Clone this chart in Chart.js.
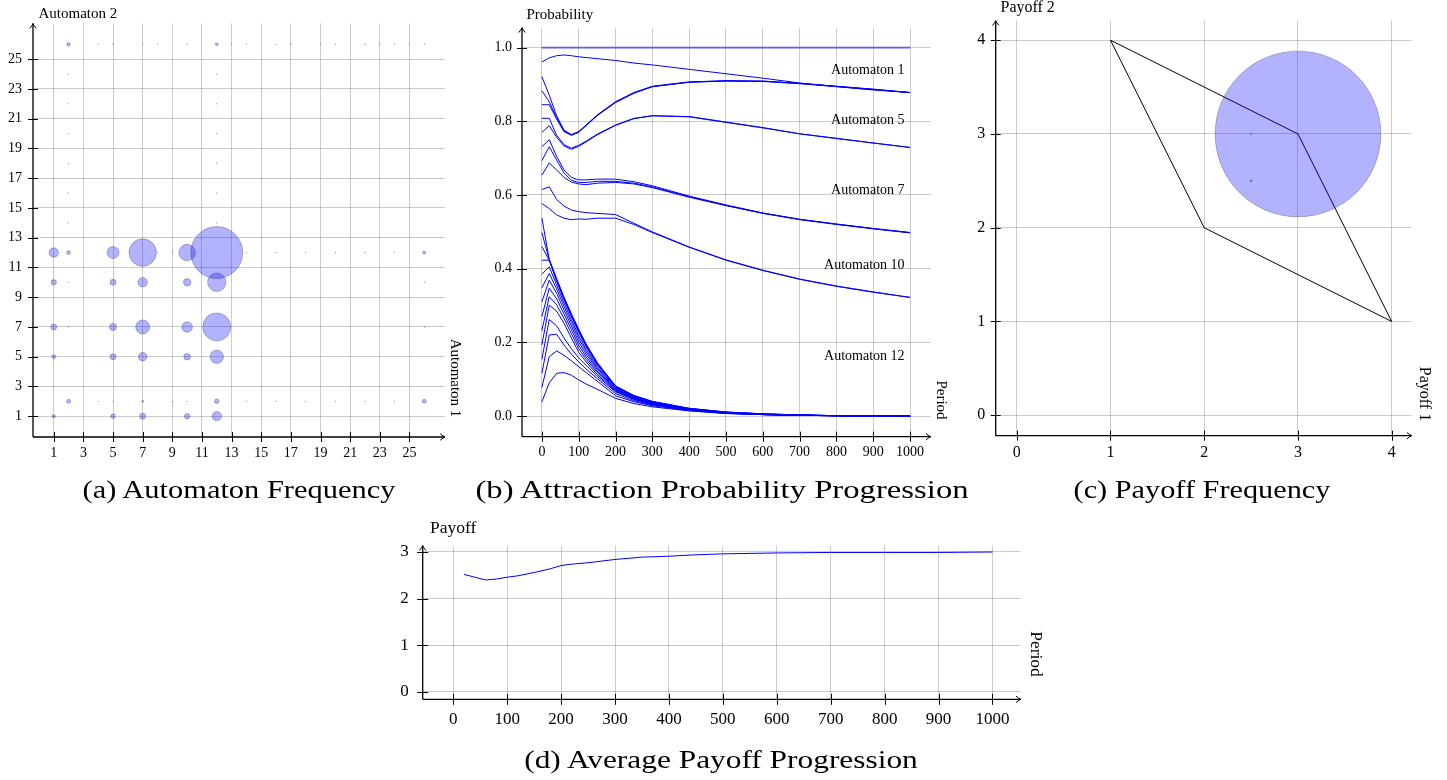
<!DOCTYPE html>
<html><head><meta charset="utf-8">
<script src="https://cdn.jsdelivr.net/npm/chart.js@4.4.1/dist/chart.umd.min.js"></script>
<style>
html,body{margin:0;padding:0;background:#fff;width:1447px;height:780px;overflow:hidden;}
canvas{position:absolute;left:0;top:0;}
.cap{position:absolute;font-family:"Liberation Serif","Times New Roman",serif;font-size:25px;color:#000;white-space:nowrap;transform:translate(-50%,-50%);}
</style></head><body>
<canvas id="ca" width="1447" height="780"></canvas>
<canvas id="cb" width="1447" height="780"></canvas>
<canvas id="cc" width="1447" height="780"></canvas>
<canvas id="cd" width="1447" height="780"></canvas>
<div class="cap" data-w="313" style="left:238.5px;top:490px">(a) Automaton Frequency</div>
<div class="cap" data-w="493" style="left:721.5px;top:490px">(b) Attraction Probability Progression</div>
<div class="cap" data-w="257" style="left:1201.5px;top:490px">(c) Payoff Frequency</div>
<div class="cap" data-w="394" style="left:721px;top:760px">(d) Average Payoff Progression</div>
<script>
// ---------- (a) Automaton Frequency ----------
const automaton1 = [1,2,5,7,10,12,26, 1,5,7,10,12, 1,5,7,10,12, 1,5,7,10,12, 2,7,12,26, 1,5,7,10,12, 2,12,
  4,5,7,8,10,13,14,16,17,19,20,22,23,24,25,26, 2,2,2,2,2,2, 12,12,12,12,12,12, 8,9,14,16,18,20,22,24, 4,5,9,10,14,16,18,20,22,24, 2,26,2,26];
const automaton2 = [12,12,12,12,12,12,12, 10,10,10,10,10, 7,7,7,7,7, 5,5,5,5,5, 2,2,2,2, 1,1,1,1,1, 26,26,
  26,26,26,26,26,26,26,26,26,26,26,26,26,26,26,26, 14,16,18,20,22,24, 14,16,18,20,22,24, 12,12,12,12,12,12,12,12, 2,2,2,2,2,2,2,2,2,2, 10,10,7,7];
const automatonFreq = [2.45,0.44,4.0,20.9,7.65,75.1,0.25, 0.81,1.0,2.45,1.52,9.4, 1.0,1.36,5.44,3.12,21.8, 0.44,1.0,2.05,1.21,4.99, 0.44,0.11,0.59,0.44, 0.32,0.59,1.0,0.81,2.45, 0.36,0.22,
  0.015,0.015,0.015,0.015,0.015,0.015,0.015,0.015,0.015,0.015,0.015,0.015,0.015,0.015,0.015,0.015, 0.012,0.012,0.012,0.012,0.012,0.012, 0.012,0.012,0.015,0.02,0.012,0.012, 0.015,0.015,0.015,0.015,0.015,0.015,0.015,0.015, 0.015,0.015,0.015,0.015,0.015,0.015,0.015,0.015,0.015,0.015, 0.02,0.015,0.015,0.015];
const ticksA = [1,3,5,7,9,11,13,15,17,19,21,23,25];

// ---------- (b) Attraction Probability Progression ----------
const periods = [0,20,40,60,80,100,120,150,200,250,300,400,500,600,700,800,900,1000];
const probOne = [1,1,1,1,1,1,1,1,1,1,1,1,1,1,1,1,1,1];
const probTop = [0.961,0.972,0.978,0.980,0.978,0.975,0.973,0.970,0.965,0.958,0.953,0.941,0.929,0.917,0.904,0.894,0.885,0.878];
const groupA = [
  [0.921,0.871,0.815,0.776,0.764,0.772,0.790,0.817,0.853,0.878,0.895,0.907,0.910,0.909,0.903,0.895,0.887,0.878],
  [0.883,0.853,0.810,0.774,0.763,0.771,0.789,0.816,0.852,0.877,0.894,0.906,0.910,0.909,0.903,0.895,0.887,0.878],
  [0.845,0.845,0.806,0.772,0.762,0.770,0.788,0.815,0.851,0.876,0.894,0.906,0.909,0.908,0.902,0.894,0.886,0.878]];
const groupB = [
  [0.808,0.808,0.762,0.737,0.727,0.735,0.746,0.765,0.790,0.808,0.815,0.813,0.798,0.783,0.766,0.754,0.741,0.729],
  [0.770,0.788,0.757,0.733,0.724,0.732,0.744,0.763,0.789,0.807,0.815,0.812,0.797,0.782,0.766,0.753,0.741,0.729]];
const groupC = [
  [0.731,0.750,0.705,0.668,0.648,0.641,0.641,0.643,0.643,0.636,0.625,0.597,0.573,0.551,0.534,0.521,0.509,0.498],
  [0.693,0.731,0.695,0.660,0.640,0.634,0.634,0.637,0.637,0.632,0.622,0.595,0.572,0.551,0.534,0.521,0.509,0.498],
  [0.654,0.687,0.668,0.648,0.635,0.630,0.628,0.632,0.634,0.630,0.620,0.594,0.571,0.550,0.533,0.520,0.508,0.497]];
const groupD = [
  [0.615,0.622,0.588,0.570,0.559,0.555,0.552,0.550,0.547,0.523,0.500,0.459,0.424,0.396,0.372,0.353,0.337,0.322],
  [0.577,0.563,0.546,0.537,0.533,0.535,0.534,0.537,0.537,0.520,0.498,0.458,0.423,0.395,0.371,0.352,0.336,0.322]];
const groupE = [
  [0.537,0.425,0.373,0.323,0.278,0.236,0.196,0.146,0.082,0.056,0.040,0.021,0.011,0.006,0.003,0.001,0.000,0.000],
  [0.498,0.424,0.371,0.321,0.276,0.233,0.193,0.144,0.081,0.055,0.039,0.021,0.011,0.006,0.003,0.001,0.000,0.000],
  [0.460,0.423,0.369,0.319,0.273,0.230,0.191,0.142,0.080,0.055,0.039,0.020,0.010,0.006,0.003,0.001,0.000,0.000],
  [0.423,0.423,0.366,0.316,0.270,0.227,0.188,0.140,0.079,0.054,0.038,0.020,0.010,0.005,0.003,0.001,0.000,0.000],
  [0.385,0.405,0.356,0.307,0.262,0.218,0.181,0.135,0.077,0.053,0.037,0.019,0.010,0.005,0.003,0.001,0.000,0.000],
  [0.348,0.387,0.345,0.298,0.254,0.210,0.175,0.131,0.075,0.051,0.036,0.019,0.010,0.005,0.002,0.001,0.000,0.000],
  [0.310,0.369,0.333,0.288,0.245,0.201,0.168,0.127,0.073,0.050,0.035,0.018,0.009,0.005,0.002,0.001,0.000,0.000],
  [0.270,0.347,0.318,0.277,0.235,0.192,0.161,0.122,0.071,0.049,0.034,0.018,0.009,0.005,0.002,0.001,0.000,0.000],
  [0.232,0.324,0.302,0.265,0.224,0.183,0.154,0.118,0.069,0.047,0.033,0.017,0.009,0.004,0.002,0.001,0.000,0.000],
  [0.193,0.301,0.285,0.252,0.212,0.173,0.147,0.113,0.067,0.046,0.032,0.017,0.008,0.004,0.002,0.001,0.000,0.000],
  [0.154,0.262,0.245,0.212,0.183,0.158,0.138,0.108,0.066,0.045,0.031,0.016,0.008,0.004,0.002,0.001,0.000,0.000],
  [0.116,0.220,0.222,0.193,0.168,0.147,0.128,0.102,0.061,0.042,0.030,0.016,0.008,0.004,0.002,0.001,0.000,0.000],
  [0.078,0.161,0.177,0.165,0.150,0.134,0.118,0.095,0.055,0.039,0.028,0.015,0.007,0.004,0.002,0.001,0.000,0.000],
  [0.039,0.090,0.116,0.118,0.111,0.098,0.087,0.073,0.048,0.034,0.025,0.014,0.007,0.004,0.002,0.001,0.000,0.000]];
const noteText = ['Automaton 1','Automaton 5','Automaton 7','Automaton 10','Automaton 12'];
const notePeriod = [985,985,985,985,985];
const noteProb = [0.939,0.803,0.613,0.410,0.161];
const ticksBX = [0,100,200,300,400,500,600,700,800,900,1000];
const ticksBY = [0,0.2,0.4,0.6,0.8,1.0];

// ---------- (c) Payoff Frequency ----------
const payoff1 = [3,2.5,2.5];
const payoff2 = [3,2.5,3];
const payoffFreq = [98.4,0.015,0.005];
const hull1 = [1,3,4,2,1];
const hull2 = [4,3,1,2,4];
const ticksC = [0,1,2,3,4];

// ---------- (d) Average Payoff Progression ----------
const avgPeriods = [20,40,60,80,100,120,150,180,200,220,250,300,350,400,450,500,600,700,800,900,1000];
const avgPayoff = [2.52,2.46,2.40,2.42,2.46,2.49,2.56,2.64,2.71,2.74,2.77,2.84,2.89,2.91,2.94,2.96,2.98,2.99,2.99,2.99,3.00];
const ticksDX = [0,100,200,300,400,500,600,700,800,900,1000];
const ticksDY = [0,1,2,3];

// ---------- helpers ----------
const SERIF = '"Liberation Serif","Times New Roman",serif';
const W = 1447, H = 780, XH = 32;
function yw(l){ return Math.min(40, l); }
function pad(l, t, r, b){ return {left:l - yw(l), top:t, right:W - r, bottom:H - b - XH}; }
function pts(xs, ys){ return xs.map((x,i)=>({x:x, y:ys[i]})); }

function scaleCfg(min, max, ticks, size, padding, ext, fmt){
  return {
    type:'linear', min:min, max:max,
    afterBuildTicks: s => { s.ticks = ticks.map(v => ({value:v})); },
    afterFit: s => { if (s.isHorizontal()) s.height = ext; else s.width = ext; },
    grid:{color:'rgba(0,0,0,0.2)', lineWidth:1, drawTicks:false},
    border:{display:false},
    ticks:{color:'#000', font:{family:SERIF, size:size}, padding:padding, autoSkip:false,
           maxRotation:0, minRotation:0, callback: fmt || (v => String(v))}
  };
}

function arrowUp(ctx, x, y){
  ctx.beginPath();
  ctx.moveTo(x-3.2, y+4.8); ctx.quadraticCurveTo(x-0.6, y+1.6, x, y);
  ctx.quadraticCurveTo(x+0.6, y+1.6, x+3.2, y+4.8); ctx.stroke();
}
function arrowRight(ctx, x, y){
  ctx.beginPath();
  ctx.moveTo(x-4.8, y-3.2); ctx.quadraticCurveTo(x-1.6, y-0.6, x, y);
  ctx.quadraticCurveTo(x-1.6, y+0.6, x-4.8, y+3.2); ctx.stroke();
}

const texAxes = {
  id:'texAxes',
  afterDatasetsDraw(chart, args, o){
    const ctx = chart.ctx, a = chart.chartArea, xs = chart.scales.x, ys = chart.scales.y;
    ctx.save();
    ctx.strokeStyle = '#000'; ctx.lineCap = 'butt';
    ctx.lineWidth = 1.3;
    ctx.beginPath();
    ctx.moveTo(a.left, a.bottom); ctx.lineTo(a.left, a.top);
    ctx.moveTo(a.left, a.bottom); ctx.lineTo(a.right, a.bottom);
    ctx.stroke();
    ctx.lineWidth = 1;
    arrowUp(ctx, a.left, a.top);
    arrowRight(ctx, a.right, a.bottom);
    const tl = o.tick || 5;
    ctx.beginPath();
    xs.ticks.forEach(t => { const p = Math.round(xs.getPixelForValue(t.value)) + 0.5; ctx.moveTo(p, a.bottom - tl); ctx.lineTo(p, a.bottom + tl); });
    ys.ticks.forEach(t => { const p = Math.round(ys.getPixelForValue(t.value)) + 0.5; ctx.moveTo(a.left - tl, p); ctx.lineTo(a.left + tl, p); });
    ctx.stroke();
    ctx.fillStyle = '#000';
    ctx.font = o.size + 'px ' + SERIF;
    ctx.textAlign = 'left'; ctx.textBaseline = 'alphabetic';
    ctx.fillText(o.yTitle, o.yTitleX, o.yTitleY);
    ctx.save();
    ctx.translate(o.xTitleX, o.xTitleY); ctx.rotate(Math.PI/2);
    ctx.textAlign = 'center'; ctx.textBaseline = 'middle';
    ctx.fillText(o.xTitle, 0, 0);
    ctx.restore();
    if (o.notes) {
      ctx.font = o.notes.size + 'px ' + SERIF;
      ctx.textAlign = 'right'; ctx.textBaseline = 'middle';
      o.notes.text.forEach((t, i) => ctx.fillText(t, xs.getPixelForValue(o.notes.x[i]), ys.getPixelForValue(o.notes.y[i])));
    }
    ctx.restore();
  }
};

function baseOpts(padding, ax){
  return {
    responsive:false, animation:false, events:[],
    layout:{padding:padding, autoPadding:false},
    plugins:{legend:{display:false}, tooltip:{enabled:false}, texAxes:ax}
  };
}

const bubbleFill = 'rgba(0,0,255,0.3)';
const bubbleEdge = 'rgba(0,0,0,0.3)';

// ---------- chart (a) ----------
{
  const L = 33;
  const opts = baseOpts(pad(L, 23.5, 445, 437),
    {size:15, yTitle:'Automaton 2', yTitleX:38.5, yTitleY:18, xTitle:'Automaton 1', xTitleX:455, xTitleY:378});
  opts.scales = {x:scaleCfg(-0.4, 27.4, ticksA, 14, 8, XH), y:scaleCfg(-0.4, 27.4, ticksA, 14, 11, yw(L))};
  new Chart(document.getElementById('ca'), {
    type:'bubble',
    data:{datasets:[{
      data: automaton1.map((x,i)=>({x:x, y:automaton2[i], r:3*Math.sqrt(automatonFreq[i])})),
      backgroundColor:bubbleFill, borderColor:bubbleEdge, borderWidth:0.8
    }]},
    options:opts, plugins:[texAxes]
  });
}

// ---------- chart (b) ----------
{
  const L = 522;
  const opts = baseOpts(pad(L, 27.7, 930.7, 436.7),
    {size:15, yTitle:'Probability', yTitleX:526.5, yTitleY:19, xTitle:'Period', xTitleX:940.5, xTitleY:400,
     notes:{size:14, text:noteText, x:notePeriod, y:noteProb}});
  opts.scales = {x:scaleCfg(-54, 1056, ticksBX, 14, 7.2, XH), y:scaleCfg(-0.056, 1.054, ticksBY, 14, 10, yw(L), v => v.toFixed(1))};
  const series = [probTop].concat(groupA, groupB, groupC, groupD, groupE);
  const ds = [{data:pts(periods, probOne), borderColor:'#5a5aff', borderWidth:1.6, pointRadius:0, fill:false, tension:0}]
    .concat(series.map(s => ({data:pts(periods, s), borderColor:'#0000ff', borderWidth:1, pointRadius:0, fill:false, tension:0})));
  new Chart(document.getElementById('cb'), {type:'line', data:{datasets:ds}, options:opts, plugins:[texAxes]});
}

// ---------- chart (c) ----------
{
  const L = 995.7;
  const opts = baseOpts(pad(L, 20.7, 1411.7, 435.7),
    {size:16, yTitle:'Payoff 2', yTitleX:1000.5, yTitleY:12, xTitle:'Payoff 1', xTitleX:1424.5, xTitleY:394});
  opts.scales = {x:scaleCfg(-0.224, 4.213, ticksC, 16, 7, XH), y:scaleCfg(-0.218, 4.208, ticksC, 16, 10.5, yw(L))};
  new Chart(document.getElementById('cc'), {
    type:'bubble',
    data:{datasets:[
      {type:'bubble', data: payoff1.map((x,i)=>({x:x, y:payoff2[i], r:8.35*Math.sqrt(payoffFreq[i])})),
       backgroundColor:bubbleFill, borderColor:bubbleEdge, borderWidth:0.8},
      {type:'line', data:pts(hull1, hull2), borderColor:'#000', borderWidth:1, pointRadius:0, fill:false, tension:0}
    ]},
    options:opts, plugins:[texAxes]
  });
}

// ---------- chart (d) ----------
{
  const L = 422.7;
  const opts = baseOpts(pad(L, 545.7, 1020.8, 699.3),
    {size:17.5, tick:5.5, yTitle:'Payoff', yTitleX:430, yTitleY:533, xTitle:'Period', xTitleX:1036, xTitleY:654});
  opts.scales = {x:scaleCfg(-56.6, 1052.5, ticksDX, 17, 10.5, XH), y:scaleCfg(-0.157, 3.135, ticksDY, 17, 14, yw(L))};
  new Chart(document.getElementById('cd'), {
    type:'line',
    data:{datasets:[{data:pts(avgPeriods, avgPayoff), borderColor:'#0000ff', borderWidth:1, pointRadius:0, fill:false, tension:0}]},
    options:opts, plugins:[texAxes]
  });
}

// caption widths: stretch horizontally to the reference widths
document.querySelectorAll('.cap').forEach(el => {
  const k = parseFloat(el.dataset.w) / el.offsetWidth;
  el.style.transform = 'translate(-50%,-50%) scaleX(' + k.toFixed(3) + ')';
});
</script>
</body></html>
